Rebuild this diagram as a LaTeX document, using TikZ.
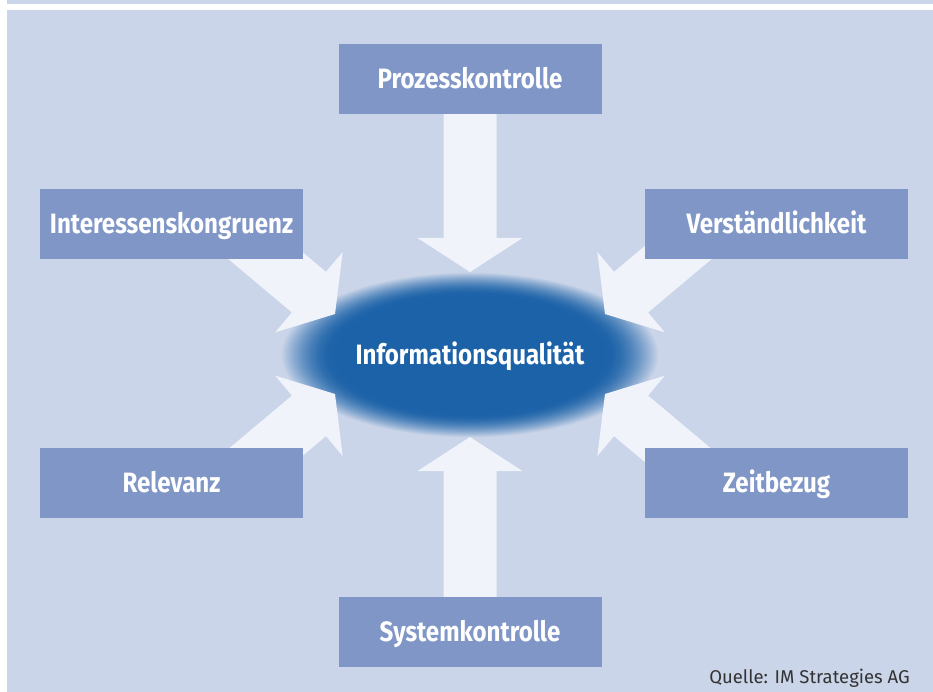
\documentclass[tikz,border=0pt]{standalone}
\usepackage{fontspec}
\setmainfont{Fira Sans}
\newfontfamily\labelfont{Fira Sans}[FakeStretch=0.86]
\newfontfamily\notefont{Fira Sans}
\usetikzlibrary{calc}

\definecolor{bgblue}{HTML}{CAD5E9}
\definecolor{boxblue}{HTML}{7F96C7}
\definecolor{arrowwhite}{HTML}{F0F3F9}
\definecolor{coreblue}{HTML}{1B62A8}
\definecolor{notegray}{HTML}{333333}

% broad block arrow from #1 with its tip at #2
\newcommand\fatarrow[2]{%
  \fill[arrowwhite] let \p1=($(#2)-(#1)$), \n1={atan2(\y1,\x1)} in
    ($(#1)+(\n1+90:26.5pt)$)
    -- ($(#2)+(\n1:-34pt)+(\n1+90:26.5pt)$)
    -- ($(#2)+(\n1:-34pt)+(\n1+90:52.5pt)$)
    -- (#2)
    -- ($(#2)+(\n1:-34pt)+(\n1-90:52.5pt)$)
    -- ($(#2)+(\n1:-34pt)+(\n1-90:26.5pt)$)
    -- ($(#1)+(\n1-90:26.5pt)$) -- cycle;}

\begin{document}
\begin{tikzpicture}[x=1pt, y=-1pt,
  labeltext/.style={text=white, font=\labelfont\bfseries\fontsize{28}{30}\selectfont,
    text height=19.3pt, text depth=0pt, inner sep=0pt},
  factor/.style={labeltext, fill=boxblue, minimum width=263pt, minimum height=70pt}]

  % page and panel
  \useasboundingbox (0,0) rectangle (933,692);
  \fill[white] (0,0) rectangle (933,692);
  \fill[bgblue] (7,0) rectangle (933,4);
  \fill[bgblue] (7,10) rectangle (933,692);

  % soft-edged blue blob: rings fading from the panel colour into the core
  \foreach \k in {0,...,40}{
    \pgfmathsetmacro\rx{190-55*\k/40}
    \pgfmathsetmacro\ry{83-24*\k/40}
    \pgfmathtruncatemacro\mix{100*sin(90*\k/40)}
    \fill[coreblue!\mix!bgblue] (470,355) ellipse [x radius=\rx pt, y radius=\ry pt];
  }
  \node[labeltext] (iq) at (470,355) {Informationsqualität};

  % arrow tips and tails
  \coordinate (tP) at (470,272);
  \coordinate (tS) at (470,437);
  \coordinate (tI) at (335,314);
  \coordinate (tR) at (335,394);
  \coordinate (tV) at (605,314);
  \coordinate (tZ) at (605,394);
  \coordinate (sI) at (212.4,211.1);
  \coordinate (sR) at (212.4,496.9);
  \coordinate (sV) at (727.6,211.1);
  \coordinate (sZ) at (727.6,496.9);
  \coordinate (sP) at (470,79);
  \coordinate (sS) at (470,632);

  \fatarrow{sP}{tP}
  \fatarrow{sS}{tS}
  \fatarrow{sI}{tI}
  \fatarrow{sR}{tR}
  \fatarrow{sV}{tV}
  \fatarrow{sZ}{tZ}

  % factor boxes
  \node[factor] (P) at (470,79)    {Prozesskontrolle};
  \node[factor] (I) at (171.5,224) {Interessenskongruenz};
  \node[factor] (V) at (776.5,224) {Verständlichkeit};
  \node[factor] (R) at (171.5,483) {Relevanz};
  \node[factor] (Z) at (776.5,483) {Zeitbezug};
  \node[factor] (S) at (470,632)   {Systemkontrolle};

  % source note
  \node[anchor=base east, inner sep=0pt, text=notegray,
        font=\notefont\fontsize{18.5}{20}\selectfont] (src) at (910,683)
        {Quelle: IM Strategies AG};
\end{tikzpicture}
\end{document}
